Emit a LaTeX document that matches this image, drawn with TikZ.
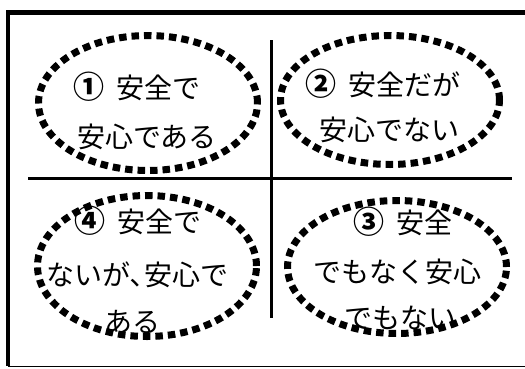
\documentclass[tikz,border=0pt]{standalone}
\usepackage{fontspec}
\setmainfont{Noto Sans CJK JP}
\usetikzlibrary{shapes.geometric}
\newcommand{\cnum}[1]{{\fontsize{31pt}{31pt}\selectfont\bfseries #1}\hspace{5pt}}
\begin{document}
\begin{tikzpicture}[x=1pt,y=-1pt,
  oval/.style={ellipse, draw, line width=7pt, dash pattern=on 7.5pt off 5pt, inner sep=0pt},
  lbl/.style={inner sep=0pt, text height=24.6pt, text depth=3.4pt, font=\fontsize{28pt}{34pt}\selectfont},
  frame/.style={line width=4.5pt, line join=miter},
  rule/.style={line width=3.5pt}]
\useasboundingbox (0,0) rectangle (525,368);
% outer frame
\draw[frame] (525,12.5) -- (8,12.5) -- (8,366);
\draw[line width=1.5pt] (8,366.5) -- (525,366.5);
% cross
\coordinate (hl) at (28,178.5);
\coordinate (hr) at (512,178.5);
\coordinate (vt) at (271.3,40);
\coordinate (vb) at (271.3,318);
\draw[rule] (hl) -- (hr);
\draw[rule] (vt) -- (vb);
% ovals
\node[oval, minimum width=219pt, minimum height=135pt] (e1) at (148,103) {};
\node[oval, minimum width=219pt, minimum height=129pt] (e2) at (390,100) {};
\node[oval, minimum width=219pt, minimum height=141pt] (e4) at (147,266) {};
\node[oval, minimum width=219pt, minimum height=133pt] (e3) at (397,267) {};
% texts
\node[lbl] (t1a) at (137,88) {\cnum{①} 安全で};
\node[lbl] (t1b) at (147,137) {安心である};
\node[lbl] (t2a) at (383,85) {\cnum{②} 安全だが};
\node[lbl] (t2b) at (389,130) {安心でない};
\node[lbl] (t4a) at (138,222) {\cnum{④} 安全で};
\node[lbl] (t4b) at (137,275) {ないが､安心で};
\node[lbl] (t4c) at (132,322) {ある};
\node[lbl] (t3a) at (403,223) {\cnum{③} 安全};
\node[lbl] (t3b) at (397,272) {でもなく安心};
\node[lbl] (t3c) at (400,318) {でもない};
\end{tikzpicture}
\end{document}
